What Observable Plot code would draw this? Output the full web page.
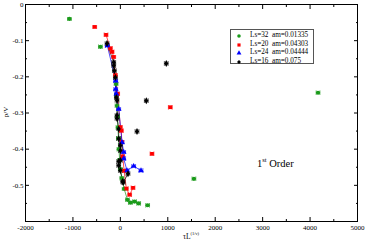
<!DOCTYPE html>
<html><head><meta charset="utf-8">
<script src="https://cdn.jsdelivr.net/npm/d3@7"></script>
<script src="https://cdn.jsdelivr.net/npm/@observablehq/plot@0.6"></script>
<style>
body{margin:0;background:#fff;}
#wrap{position:relative;width:366px;height:242px;font-family:"Liberation Serif",serif;}
#legend{position:absolute;left:230px;top:29px;width:84px;height:35px;border:1px solid #555;background:#fff;font-size:7.2px;line-height:8.7px;box-sizing:border-box;padding-top:1px;}
#legend div{white-space:pre;position:relative;padding-left:19px;height:8.7px;}
#legend svg{position:absolute;left:5px;top:2px;}
#order{position:absolute;left:257px;top:156px;font-size:10.5px;}
#order sup{font-size:6.5px;vertical-align:5px;}
</style></head>
<body><div id="wrap"><div id="chart"></div><div id="legend"></div><div id="order">1<sup>st</sup> Order</div></div>
<script>
// Series labels and colours
const seriesLabels = ["Ls=32  am=0.01335", "Ls=20  am=0.04303", "Ls=24  am=0.04444", "Ls=16  am=0.075"];
const seriesColors = ["#1a9a1a", "#ff0000", "#0000ff", "#000000"];
const seriesSymbols = ["circle", "square", "triangle", "diamond"];

// Ls=32 (green): points on curve, and isolated points
const g_cx = [-90, -80, -70, -60, -50, -40, -30, -15, 0, 30, 80, 150, 211, 300, 386];
const g_cy = [-0.220, -0.250, -0.280, -0.310, -0.340, -0.370, -0.400, -0.430, -0.455, -0.480, -0.510, -0.540, -0.548, -0.545, -0.550];
const g_sx = [-1074, -421, 575, 1551, 4168];
const g_sy = [-0.040, -0.117, -0.555, -0.482, -0.244];

// Ls=20 (red)
const r_cx = [-302, -210, -175, -140, -105, -57, 0, 21, 30, 50, 80, 126, 196, 267];
const r_cy = [-0.084, -0.121, -0.131, -0.145, -0.195, -0.247, -0.339, -0.349, -0.380, -0.420, -0.460, -0.509, -0.526, -0.507];
const r_sx = [-541, 1053, 667];
const r_sy = [-0.062, -0.284, -0.413];

// Ls=24 (blue)
const b_cx = [-274, -98, -98, -84, -35, 35, 70, 70, 140, 281, 435];
const b_cy = [-0.114, -0.211, -0.234, -0.247, -0.289, -0.381, -0.408, -0.426, -0.459, -0.447, -0.459];
const b_sx = [];
const b_sy = [];

// Ls=16 (black)
const k_cx = [-281, -140, -140, -126, -105, -84, -70, -70, -70, -35, -35, 0, 0, 0, -35, -35, 0, 49, 60, 161];
const k_cy = [-0.108, -0.160, -0.169, -0.183, -0.202, -0.257, -0.265, -0.307, -0.315, -0.344, -0.371, -0.390, -0.404, -0.431, -0.434, -0.445, -0.459, -0.489, -0.492, -0.468];
const k_sx = [968, 547, 351];
const k_sy = [-0.163, -0.266, -0.351];

// horizontal error (same for all points of a series)
const seriesErr = [40, 40, 40, 40];

const xTicks = [-2000, -1000, 0, 1000, 2000, 3000, 4000, 5000];
const xMinor = [-1500, -500, 500, 1500, 2500, 3500, 4500];
const yTicks = [0, -0.1, -0.2, -0.3, -0.4, -0.5];
const yMinor = [-0.05, -0.15, -0.25, -0.35, -0.45, -0.55];

const raw = [[g_cx, g_cy, g_sx, g_sy], [r_cx, r_cy, r_sx, r_sy], [b_cx, b_cy, b_sx, b_sy], [k_cx, k_cy, k_sx, k_sy]];
const curves = [], points = [];
raw.forEach(([cx, cy, sx, sy], i) => {
  const c = cx.map((x, j) => ({x, y: cy[j], s: i, e: seriesErr[i]}));
  const s = sx.map((x, j) => ({x, y: sy[j], s: i, e: seriesErr[i]}));
  curves.push(c);
  points.push(...c, ...s);
});
const order = [0, 1, 2, 3];

const marks = [];
curves.forEach((c, i) => marks.push(Plot.line(c, {x: "x", y: "y", stroke: seriesColors[i], strokeWidth: 0.7})));
marks.push(Plot.link(points, {x1: d => d.x - d.e, x2: d => d.x + d.e, y1: "y", y2: "y", stroke: d => seriesColors[d.s], strokeWidth: 0.8, markerStart: "tick", markerEnd: "tick"}));
order.forEach(i => marks.push(Plot.dot(points.filter(d => d.s === i), {x: "x", y: "y", symbol: () => seriesSymbols[i], fill: seriesColors[i], stroke: "none", r: 2.1})));

const chart = Plot.plot({
  width: 366, height: 242,
  marginLeft: 25, marginRight: 9, marginTop: 4, marginBottom: 21,
  style: {fontFamily: "Liberation Serif", fontSize: "7px", background: "#fff", color: "#000"},
  x: {domain: [-2000, 5000]},
  y: {domain: [-0.6, 0]},
  symbol: {type: "identity"},
  marks: [
    ...marks,
    Plot.frame({stroke: "#000", strokeWidth: 1}),
    Plot.axisX(xTicks, {anchor: "bottom", tickSize: -4, tickPadding: 8, tickFormat: d => String(d), label: null}),
    Plot.axisX(xMinor, {anchor: "bottom", tickSize: -2, tickFormat: () => "", label: null}),
    Plot.axisX(xTicks, {anchor: "top", tickSize: -4, tickFormat: () => "", label: null}),
    Plot.axisX(xMinor, {anchor: "top", tickSize: -2, tickFormat: () => "", label: null}),
    Plot.axisY(yTicks, {anchor: "left", tickSize: -4, tickPadding: 6, tickFormat: d => d === 0 ? "0" : d.toFixed(1), label: null}),
    Plot.axisY(yMinor, {anchor: "left", tickSize: -2, tickFormat: () => "", label: null}),
    Plot.axisY(yTicks, {anchor: "right", tickSize: -4, tickFormat: () => "", label: null}),
    Plot.axisY(yMinor, {anchor: "right", tickSize: -2, tickFormat: () => "", label: null})
  ]
});
document.getElementById("chart").appendChild(chart);

// axis titles
const svg = d3.select(chart);
const xl = svg.append("text").attr("x", 191).attr("y", 239).attr("text-anchor", "middle")
  .attr("font-family", "Liberation Serif").attr("font-size", 7.5);
xl.append("tspan").text("τL");
xl.append("tspan").attr("dy", -4).attr("font-size", 4.5).text("(1/ν)");
svg.append("text").attr("transform", "translate(8,112) rotate(-90)").attr("text-anchor", "middle")
  .attr("font-family", "Liberation Serif").attr("font-size", 7).text("p/V");

// legend
const leg = d3.select("#legend");
order.forEach(i => {
  const row = leg.append("div");
  const s = row.append("svg").attr("width", 6).attr("height", 6);
  s.append("path").attr("transform", "translate(3,3)")
    .attr("d", d3.symbol(seriesSymbols[i] === "circle" ? d3.symbolCircle : seriesSymbols[i] === "square" ? d3.symbolSquare : seriesSymbols[i] === "triangle" ? d3.symbolTriangle : d3.symbolDiamond2, 10)())
    .attr("fill", seriesColors[i]);
  row.append("span").text(seriesLabels[i]);
});
</script></body></html>
